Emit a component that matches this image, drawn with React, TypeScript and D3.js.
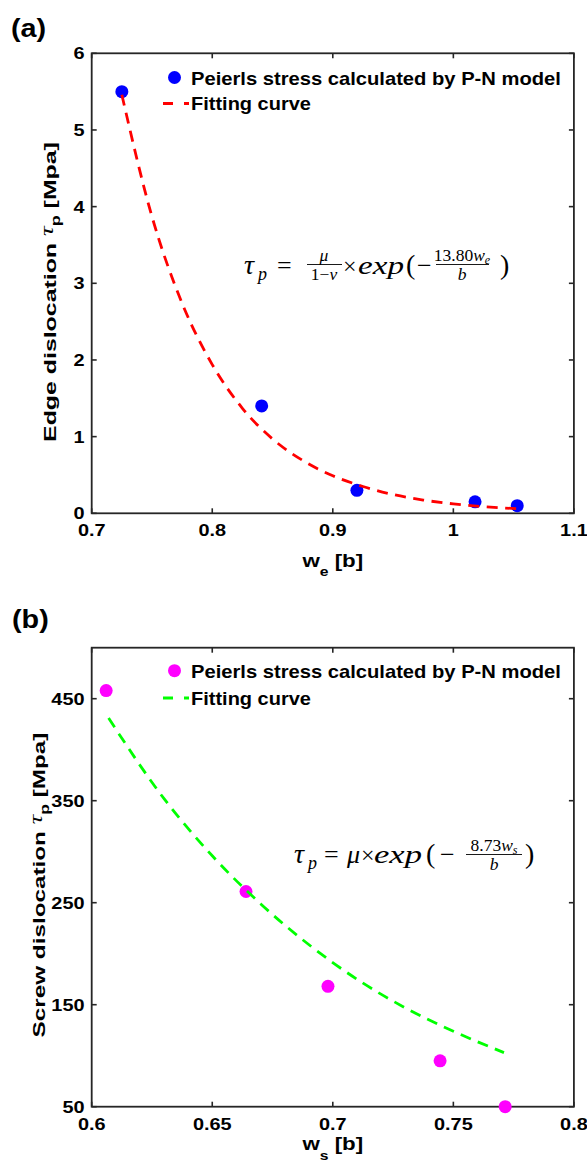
import React, { useRef, useState, useLayoutEffect } from "react";
import * as d3 from "d3";

// ---------- data ----------
// (a) edge dislocation
const edgeW = [0.725, 0.841, 0.92, 1.018, 1.053];
const edgeTau = [5.5, 1.4, 0.3, 0.15, 0.1];
const edgeFitW = [0.725, 0.75, 0.775, 0.8, 0.825, 0.85, 0.875, 0.9, 0.925, 0.95, 0.975, 1.0, 1.025, 1.055];
const edgeFitTau = [5.46, 3.87, 2.74, 1.94, 1.37, 0.97, 0.69, 0.49, 0.35, 0.245, 0.173, 0.123, 0.087, 0.058];
const edgeXTicks = [0.7, 0.8, 0.9, 1.0, 1.1];
const edgeXTickLabels = ["0.7", "0.8", "0.9", "1", "1.1"];
const edgeYTicks = [0, 1, 2, 3, 4, 5, 6];
const edgeYTickLabels = ["0", "1", "2", "3", "4", "5", "6"];

// (b) screw dislocation
const screwW = [0.606, 0.664, 0.698, 0.7445, 0.7715];
const screwTau = [458, 261, 168, 95, 50];
const screwFitW = [0.607, 0.63, 0.65, 0.67, 0.69, 0.71, 0.73, 0.75, 0.771];
const screwFitTau = [431, 352, 296, 249, 209, 175, 147, 124, 103];
const screwXTicks = [0.6, 0.65, 0.7, 0.75, 0.8];
const screwXTickLabels = ["0.6", "0.65", "0.7", "0.75", "0.8"];
const screwYTicks = [50, 150, 250, 350, 450];
const screwYTickLabels = ["50", "150", "250", "350", "450"];

const legendPoints = "Peierls stress calculated by P-N model";
const legendFit = "Fitting curve";

// ---------- style ----------
const sans = "'Liberation Sans', Arial, Helvetica, sans-serif";
const serif = "'Liberation Serif', 'Times New Roman', serif";
const axisColor = "#262626";
const SX = 1.15;

function SText({ x, y, rot = 0, sx = 1, width, anchor = "start", children, ...rest }: any) {
  const ref = useRef<SVGTextElement>(null);
  const [s, setS] = useState(sx);
  useLayoutEffect(() => {
    if (width && ref.current) {
      const w = ref.current.getBBox().width;
      if (w > 0) setS(width / w);
    }
  }, [width]);
  return (
    <g transform={`translate(${x},${y}) rotate(${rot}) scale(${s},1)`}>
      <text ref={ref} textAnchor={anchor} {...rest}>
        {children}
      </text>
    </g>
  );
}

function Panel(p: any) {
  const { box } = p;
  const x = d3.scaleLinear().domain(p.xDomain).range([box.left, box.right]);
  const y = d3.scaleLinear().domain(p.yDomain).range([box.bottom, box.top]);
  const line = d3
    .line<[number, number]>()
    .x((d) => x(d[0]))
    .y((d) => y(d[1]))
    .curve(d3.curveMonotoneX);
  const fit = line(d3.zip(p.fitX, p.fitY) as [number, number][]);
  const pts = d3.zip(p.ptsX, p.ptsY) as [number, number][];
  const tl = 5;
  return (
    <g>
      {/* panel label */}
      <SText x={p.panelLabelX} y={p.panelLabelY} sx={SX} fontFamily={sans} fontWeight="bold" fontSize={25}>
        {p.panelLabel}
      </SText>
      {/* ticks */}
      {p.xTicks.map((t: number, i: number) => (
        <g key={"xt" + i}>
          <line x1={x(t)} x2={x(t)} y1={box.bottom} y2={box.bottom - tl} stroke={axisColor} strokeWidth={1.6} />
          <line x1={x(t)} x2={x(t)} y1={box.top} y2={box.top + tl} stroke={axisColor} strokeWidth={1.6} />
          <SText x={x(t)} y={box.bottom + p.xTickDy} sx={SX} anchor="middle" fontFamily={sans} fontWeight="bold" fontSize={17.3}>
            {p.xTickLabels[i]}
          </SText>
        </g>
      ))}
      {p.yTicks.map((t: number, i: number) => (
        <g key={"yt" + i}>
          <line x1={box.left} x2={box.left + tl} y1={y(t)} y2={y(t)} stroke={axisColor} strokeWidth={1.6} />
          <line x1={box.right} x2={box.right - tl} y1={y(t)} y2={y(t)} stroke={axisColor} strokeWidth={1.6} />
          <SText x={84.5} y={y(t) + 6} sx={SX} anchor="end" fontFamily={sans} fontWeight="bold" fontSize={17.3}>
            {p.yTickLabels[i]}
          </SText>
        </g>
      ))}
      <rect
        x={box.left}
        y={box.top}
        width={box.right - box.left}
        height={box.bottom - box.top}
        fill="none"
        stroke={axisColor}
        strokeWidth={1.8}
      />
      {/* data */}
      {pts.map((d, i) => (
        <circle key={"p" + i} cx={x(d[0])} cy={y(d[1])} r={6.5} fill={p.markerColor} />
      ))}
      <path d={fit || ""} fill="none" stroke={p.lineColor} strokeWidth={2.8} strokeDasharray="11 7.5" />
      {/* legend */}
      <circle cx={174.5} cy={p.legY1} r={6.5} fill={p.markerColor} />
      <SText x={191} y={p.legY1 + 7} width={370} fontFamily={sans} fontWeight="bold" fontSize={18}>
        {legendPoints}
      </SText>
      <line x1={163} x2={189} y1={p.legY2} y2={p.legY2} stroke={p.lineColor} strokeWidth={2.8} strokeDasharray="10 11" />
      <SText x={191} y={p.legY2 + 6.5} width={120} fontFamily={sans} fontWeight="bold" fontSize={18}>
        {legendFit}
      </SText>
      {/* axis labels */}
      <SText
        x={p.xLabelX}
        y={p.xLabelY}
        width={62}
        anchor="middle"
        fontFamily={sans}
        fontWeight="bold"
        fontSize={18.5}
      >
        w
        <tspan fontSize={13} dy={p.xSubDy}>
          {p.xSub}
        </tspan>
        <tspan dy={-p.xSubDy}>{" [b]"}</tspan>
      </SText>
      <SText
        x={p.yLabelX}
        y={p.yLabelY}
        rot={-90}
        width={p.yLabelLen}
        anchor="middle"
        fontFamily={sans}
        fontWeight="bold"
        fontSize={16.5}
      >
        {p.yLabelText + " "}
        <tspan fontFamily={serif} fontStyle="italic" fontWeight="normal" fontSize={18} dy={-3}>
          τ
        </tspan>
        <tspan fontSize={12} dy={7}>
          p
        </tspan>
        <tspan dy={-4}>{" [Mpa]"}</tspan>
      </SText>
      {p.children}
    </g>
  );
}

function MathFrac({ cx, y, x1, x2, num, den }: any) {
  return (
    <g>
      <text x={cx} y={y - 3.5} textAnchor="middle" fontFamily={serif} fontSize={17.5}>
        {num}
      </text>
      <line x1={x1} x2={x2} y1={y} y2={y} stroke="#000" strokeWidth={0.9} />
      <text x={cx} y={y + 15} textAnchor="middle" fontFamily={serif} fontSize={17.5}>
        {den}
      </text>
    </g>
  );
}

function EqA() {
  const b = 273.5;
  const f = { fontFamily: serif, fill: "#000" };
  return (
    <g>
      <text x={244} y={b} {...f} fontSize={28} fontStyle="italic">τ</text>
      <text x={258} y={b + 6} {...f} fontSize={18} fontStyle="italic">p</text>
      <text x={277} y={b} {...f} fontSize={26}>=</text>
      <MathFrac
        cx={324}
        y={264.5}
        x1={307}
        x2={342}
        num={<tspan fontStyle="italic">μ</tspan>}
        den={<>1−<tspan fontStyle="italic">ν</tspan></>}
      />
      <text x={343} y={b} {...f} fontSize={24}>×</text>
      <SText x={358} y={b} width={46} {...f} fontSize={26} fontStyle="italic">exp</SText>
      <text x={406} y={b} {...f} fontSize={28}>(</text>
      <text x={417} y={b} {...f} fontSize={26}>−</text>
      <MathFrac
        cx={462}
        y={264.5}
        x1={436}
        x2={489}
        num={<>13.80<tspan fontStyle="italic">w</tspan><tspan fontSize={12} fontStyle="italic" dy={3}>e</tspan></>}
        den={<tspan fontStyle="italic">b</tspan>}
      />
      <text x={500} y={b} {...f} fontSize={28}>)</text>
    </g>
  );
}

function EqB() {
  const b = 863;
  const f = { fontFamily: serif, fill: "#000" };
  return (
    <g>
      <text x={294} y={b} {...f} fontSize={28} fontStyle="italic">τ</text>
      <text x={308} y={b + 6} {...f} fontSize={18} fontStyle="italic">p</text>
      <text x={324} y={b} {...f} fontSize={26}>=</text>
      <text x={347} y={b} {...f} fontSize={26} fontStyle="italic">μ</text>
      <text x={361} y={b} {...f} fontSize={24}>×</text>
      <SText x={374} y={b} width={48} {...f} fontSize={26} fontStyle="italic">exp</SText>
      <text x={426} y={b} {...f} fontSize={28}>(</text>
      <text x={440} y={b} {...f} fontSize={26}>−</text>
      <MathFrac
        cx={494}
        y={854.5}
        x1={466}
        x2={522}
        num={<>8.73<tspan fontStyle="italic">w</tspan><tspan fontSize={12} fontStyle="italic" dy={3}>s</tspan></>}
        den={<tspan fontStyle="italic">b</tspan>}
      />
      <text x={525} y={b} {...f} fontSize={28}>)</text>
    </g>
  );
}

export default function App() {
  const W = 587;
  const H = 1172;
  const boxA = { left: 91.7, right: 573.9, top: 53.3, bottom: 513.3 };
  const boxB = { left: 91.7, right: 573.9, top: 647.7, bottom: 1106.7 };
  return (
    <svg
      width={W}
      height={H}
      viewBox={`0 0 ${W} ${H}`}
      style={{ position: "absolute", left: 0, top: 0, background: "#fff", display: "block" }}
    >
      <rect x={0} y={0} width={W} height={H} fill="#fff" />
      <Panel
        box={boxA}
        xDomain={[0.7, 1.1]}
        yDomain={[0, 6]}
        xTicks={edgeXTicks}
        xTickLabels={edgeXTickLabels}
        yTicks={edgeYTicks}
        yTickLabels={edgeYTickLabels}
        ptsX={edgeW}
        ptsY={edgeTau}
        fitX={edgeFitW}
        fitY={edgeFitTau}
        markerColor="#0000ff"
        lineColor="#ff0000"
        panelLabel="(a)"
        panelLabelX={11}
        panelLabelY={36.5}
        legY1={77.5}
        legY2={103.5}
        xTickDy={23}
        xLabelX={332.8}
        xLabelY={567}
        xSub="e"
        xSubDy={9}
        yLabelText="Edge dislocation"
        yLabelX={56}
        yLabelY={292}
        yLabelLen={300}
      >
        <EqA />
      </Panel>
      <Panel
        box={boxB}
        xDomain={[0.6, 0.8]}
        yDomain={[50, 500]}
        xTicks={screwXTicks}
        xTickLabels={screwXTickLabels}
        yTicks={screwYTicks}
        yTickLabels={screwYTickLabels}
        ptsX={screwW}
        ptsY={screwTau}
        fitX={screwFitW}
        fitY={screwFitTau}
        markerColor="#ff00ff"
        lineColor="#00ff00"
        panelLabel="(b)"
        panelLabelX={12}
        panelLabelY={628}
        legY1={670.7}
        legY2={698}
        xTickDy={23}
        xLabelX={332.8}
        xLabelY={1150}
        xSub="s"
        xSubDy={10}
        yLabelText="Screw dislocation"
        yLabelX={45}
        yLabelY={885}
        yLabelLen={305}
      >
        <EqB />
      </Panel>
    </svg>
  );
}
